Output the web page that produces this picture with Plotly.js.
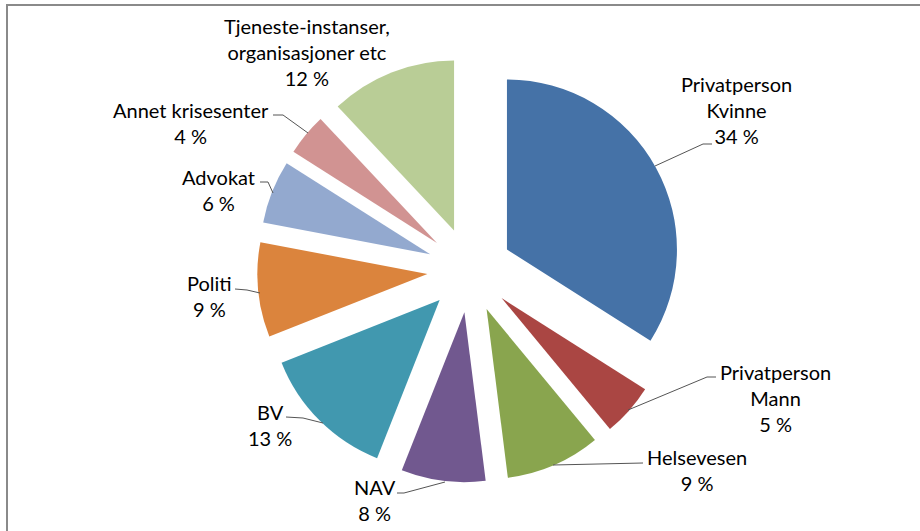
<!DOCTYPE html>
<html>
<head>
<meta charset="utf-8">
<script src="https://cdn.plot.ly/plotly-3.0.1.min.js"></script>
<style>
html,body{margin:0;padding:0;background:#fff;}
#chart{width:920px;height:531px;}
</style>
</head>
<body>
<div id="chart"></div>
<script>
const categories = ["Privatperson Kvinne", "Privatperson Mann", "Helsevesen", "NAV", "BV", "Politi", "Advokat", "Annet krisesenter", "Tjeneste-instanser, organisasjoner etc"];
const labelLines = [["Privatperson", "Kvinne"], ["Privatperson", "Mann"], ["Helsevesen"], ["NAV"], ["BV"], ["Politi"], ["Advokat"], ["Annet krisesenter"], ["Tjeneste-instanser,", "organisasjoner etc"]];
const values = [34, 5, 9, 8, 13, 9, 6, 4, 12];
const colors = ["#4572A7", "#AA4643", "#89A54E", "#71588F", "#4198AF", "#DB843D", "#93A9CF", "#D19392", "#B9CD96"];

const W = 920, H = 531;
const px = x => x / W;
const py = y => 1 - y / H;

// label block centres (pixels) and leader-line paths (pixels)
const labelPos = [[736, 110], [775, 398], [697, 470], [375, 500], [270, 425], [209, 296], [218, 190], [191, 123], [307, 52]];
const leaders = [
  [[712,144],[703,144],[655,166]],
  [[716,377],[707,377],[628,410]],
  [[643,463],[553,465]],
  [[397,493],[404,493],[445,482]],
  [[286,417],[303,418],[323,423]],
  [[235,289],[247,290],[260,293]],
  [[260,182],[268,182],[273,193]],
  [[273,115],[283,115],[308,133]],
  null
];

const total = values.reduce((a, b) => a + b, 0);
const FONT = "Lato, 'Open Sans', sans-serif";

const annotations = categories.map((c, i) => ({
  xref: "paper", yref: "paper",
  x: px(labelPos[i][0]), y: py(labelPos[i][1]),
  xanchor: "center", yanchor: "middle",
  showarrow: false, align: "center",
  text: labelLines[i].concat([Math.round(values[i] / total * 100) + " %"]).join("<br>"),
  font: {family: FONT, size: 20, color: "#000"}
}));

const shapes = [];
leaders.forEach(l => {
  if (!l) return;
  const d = l.map((p, k) => (k ? "L" : "M") + px(p[0]) + "," + py(p[1])).join(" ");
  shapes.push({type: "path", xref: "paper", yref: "paper", path: d, line: {color: "#555", width: 1}});
});
// chart border (top and left visible)
shapes.push({type: "line", xref: "paper", yref: "paper", x0: px(7), x1: px(7), y0: py(4), y1: py(540), line: {color: "#8a8a8a", width: 2}});
shapes.push({type: "line", xref: "paper", yref: "paper", x0: px(6), x1: px(930), y0: py(5), y1: py(5), line: {color: "#8a8a8a", width: 2}});

const trace = {
  type: "pie",
  labels: categories,
  values: values,
  sort: false,
  direction: "clockwise",
  rotation: 0,
  pull: values.map(() => 0.25),
  marker: {colors: colors, line: {width: 0}},
  textinfo: "none",
  hoverinfo: "skip",
  showlegend: false,
  domain: {x: [0.0211, 1], y: [0.0913, 0.8917]}
};

const layout = {
  width: W, height: H,
  margin: {l: 0, r: 0, t: 0, b: 0},
  paper_bgcolor: "#fff",
  showlegend: false,
  annotations: annotations,
  shapes: shapes
};

Plotly.newPlot("chart", [trace], layout, {displayModeBar: false, staticPlot: true});
</script>
</body>
</html>
